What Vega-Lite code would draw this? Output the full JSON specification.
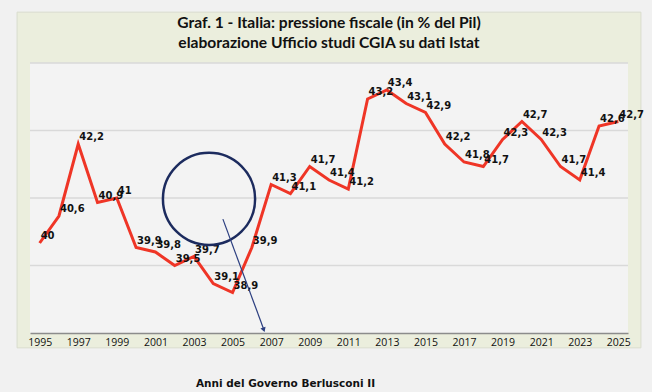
{
  "$schema": "https://vega.github.io/schema/vega-lite/v6.json",
  "width": 598,
  "height": 270,
  "autosize": "none",
  "padding": {"left": 30, "top": 63, "right": 24, "bottom": 59},
  "background": "#f1f1f1",
  "config": {
    "view": {"stroke": null},
    "locale": {"number": {"decimal": ",", "thousands": ".", "grouping": [3], "currency": ["€", ""]}},
    "axisX": {
      "grid": false,
      "ticks": false,
      "labelOverlap": false,
      "labelFlush": false,
      "labelFont": "Open Sans",
      "labelFontSize": 10.5,
      "labelColor": "#111111",
      "labelPadding": 4,
      "domainColor": "#8c8c8c",
      "domainWidth": 1.5,
      "titleFont": "DejaVu Sans",
      "titleFontSize": 10.5,
      "titleFontWeight": "bold",
      "titleColor": "#111111",
      "titleX": 255,
      "titleY": 50,
      "titleAlign": "center",
      "titleBaseline": "middle"
    }
  },
  "title": {
    "text": ["Graf. 1 - Italia: pressione fiscale (in % del Pil)", "elaborazione Ufficio studi CGIA su dati Istat"],
    "font": "Lato",
    "fontSize": 15.6,
    "fontWeight": "bold",
    "color": "#111111",
    "lineHeight": 20,
    "anchor": "middle",
    "baseline": "bottom",
    "offset": -55
  },
  "datasets": {
    "serie": [
      {"anno": 1995, "v": 40},
      {"anno": 1996, "v": 40.6},
      {"anno": 1997, "v": 42.2},
      {"anno": 1998, "v": 40.9},
      {"anno": 1999, "v": 41},
      {"anno": 2000, "v": 39.9},
      {"anno": 2001, "v": 39.8},
      {"anno": 2002, "v": 39.5},
      {"anno": 2003, "v": 39.7},
      {"anno": 2004, "v": 39.1},
      {"anno": 2005, "v": 38.9},
      {"anno": 2006, "v": 39.9},
      {"anno": 2007, "v": 41.3},
      {"anno": 2008, "v": 41.1},
      {"anno": 2009, "v": 41.7},
      {"anno": 2010, "v": 41.4},
      {"anno": 2011, "v": 41.2},
      {"anno": 2012, "v": 43.2},
      {"anno": 2013, "v": 43.4},
      {"anno": 2014, "v": 43.1},
      {"anno": 2015, "v": 42.9},
      {"anno": 2016, "v": 42.2},
      {"anno": 2017, "v": 41.8},
      {"anno": 2018, "v": 41.7},
      {"anno": 2019, "v": 42.3},
      {"anno": 2020, "v": 42.7},
      {"anno": 2021, "v": 42.3},
      {"anno": 2022, "v": 41.7},
      {"anno": 2023, "v": 41.4},
      {"anno": 2024, "v": 42.6},
      {"anno": 2025, "v": 42.7}
    ],
    "griglia": [{"g": 39.5}, {"g": 41}, {"g": 42.5}, {"g": 44}],
    "uno": [{}]
  },
  "layer": [
    {
      "data": {"name": "uno"},
      "mark": {"type": "rect", "fill": "#ebeedd", "stroke": "#d9dccd", "strokeWidth": 1},
      "encoding": {
        "x": {"datum": 1993.83, "type": "quantitative", "scale": {"domain": [1994.5, 2025.5], "nice": false, "zero": false},
          "axis": {"values": [1995, 1997, 1999, 2001, 2003, 2005, 2007, 2009, 2011, 2013, 2015, 2017, 2019, 2021, 2023, 2025], "format": "d", "labelOverlap": false, "labelFlush": false, "zindex": 1, "title": "Anni del Governo Berlusconi II"}},
        "x2": {"datum": 2026.17},
        "y": {"datum": 45.13, "type": "quantitative", "scale": {"domain": [38, 44], "nice": false, "zero": false}, "axis": null},
        "y2": {"datum": 37.67}
      }
    },
    {
      "data": {"name": "uno"},
      "mark": {"type": "rect", "fill": "#f3f3f3"},
      "encoding": {
        "x": {"datum": 1994.5, "type": "quantitative",
          "axis": {"values": [1995, 1997, 1999, 2001, 2003, 2005, 2007, 2009, 2011, 2013, 2015, 2017, 2019, 2021, 2023, 2025], "format": "d", "labelOverlap": false, "labelFlush": false, "zindex": 1, "title": "Anni del Governo Berlusconi II"}},
        "x2": {"datum": 2025.5},
        "y": {"datum": 44, "type": "quantitative", "axis": null},
        "y2": {"datum": 38}
      }
    },
    {
      "data": {"name": "griglia"},
      "mark": {"type": "rule", "color": "#d9d9d9", "strokeWidth": 1.5},
      "encoding": {
        "y": {"field": "g", "type": "quantitative", "axis": null}
      }
    },
    {
      "data": {"name": "serie"},
      "mark": {"type": "line", "color": "#ef3526", "strokeWidth": 3},
      "encoding": {
        "x": {"field": "anno", "type": "quantitative",
          "axis": {"values": [1995, 1997, 1999, 2001, 2003, 2005, 2007, 2009, 2011, 2013, 2015, 2017, 2019, 2021, 2023, 2025], "format": "d", "labelOverlap": false, "labelFlush": false, "zindex": 1, "title": "Anni del Governo Berlusconi II"}},
        "y": {"field": "v", "type": "quantitative", "axis": null}
      }
    },
    {
      "data": {"name": "serie"},
      "mark": {"type": "text", "align": "left", "baseline": "middle", "dx": 1, "dy": -7, "font": "DejaVu Sans", "fontSize": 10, "fontWeight": "bold", "color": "#111111"},
      "encoding": {
        "x": {"field": "anno", "type": "quantitative",
          "axis": {"values": [1995, 1997, 1999, 2001, 2003, 2005, 2007, 2009, 2011, 2013, 2015, 2017, 2019, 2021, 2023, 2025], "format": "d", "labelOverlap": false, "labelFlush": false, "zindex": 1, "title": "Anni del Governo Berlusconi II"}},
        "y": {"field": "v", "type": "quantitative", "axis": null},
        "text": {"field": "v", "type": "quantitative", "format": ".1~f"}
      }
    },
    {
      "data": {"name": "uno"},
      "mark": {"type": "point", "shape": "circle", "filled": false, "stroke": "#1c2b5e", "strokeWidth": 2.5, "size": 8495, "opacity": 1},
      "encoding": {
        "x": {"datum": 2003.78, "type": "quantitative",
          "axis": {"values": [1995, 1997, 1999, 2001, 2003, 2005, 2007, 2009, 2011, 2013, 2015, 2017, 2019, 2021, 2023, 2025], "format": "d", "labelOverlap": false, "labelFlush": false, "zindex": 1, "title": "Anni del Governo Berlusconi II"}},
        "y": {"datum": 40.98, "type": "quantitative", "axis": null}
      }
    },
    {
      "data": {"name": "uno"},
      "mark": {"type": "rule", "color": "#2c3f80", "strokeWidth": 1.2},
      "encoding": {
        "x": {"datum": 2004.5, "type": "quantitative",
          "axis": {"values": [1995, 1997, 1999, 2001, 2003, 2005, 2007, 2009, 2011, 2013, 2015, 2017, 2019, 2021, 2023, 2025], "format": "d", "labelOverlap": false, "labelFlush": false, "zindex": 1, "title": "Anni del Governo Berlusconi II"}},
        "y": {"datum": 40.53, "type": "quantitative", "axis": null},
        "x2": {"datum": 2006.6},
        "y2": {"datum": 38.1}
      }
    },
    {
      "data": {"name": "uno"},
      "mark": {"type": "point", "shape": "triangle-down", "filled": true, "color": "#2c3f80", "size": 30, "angle": -20, "opacity": 1},
      "encoding": {
        "x": {"datum": 2006.62, "type": "quantitative",
          "axis": {"values": [1995, 1997, 1999, 2001, 2003, 2005, 2007, 2009, 2011, 2013, 2015, 2017, 2019, 2021, 2023, 2025], "format": "d", "labelOverlap": false, "labelFlush": false, "zindex": 1, "title": "Anni del Governo Berlusconi II"}},
        "y": {"datum": 38.07, "type": "quantitative", "axis": null}
      }
    }
  ]
}
